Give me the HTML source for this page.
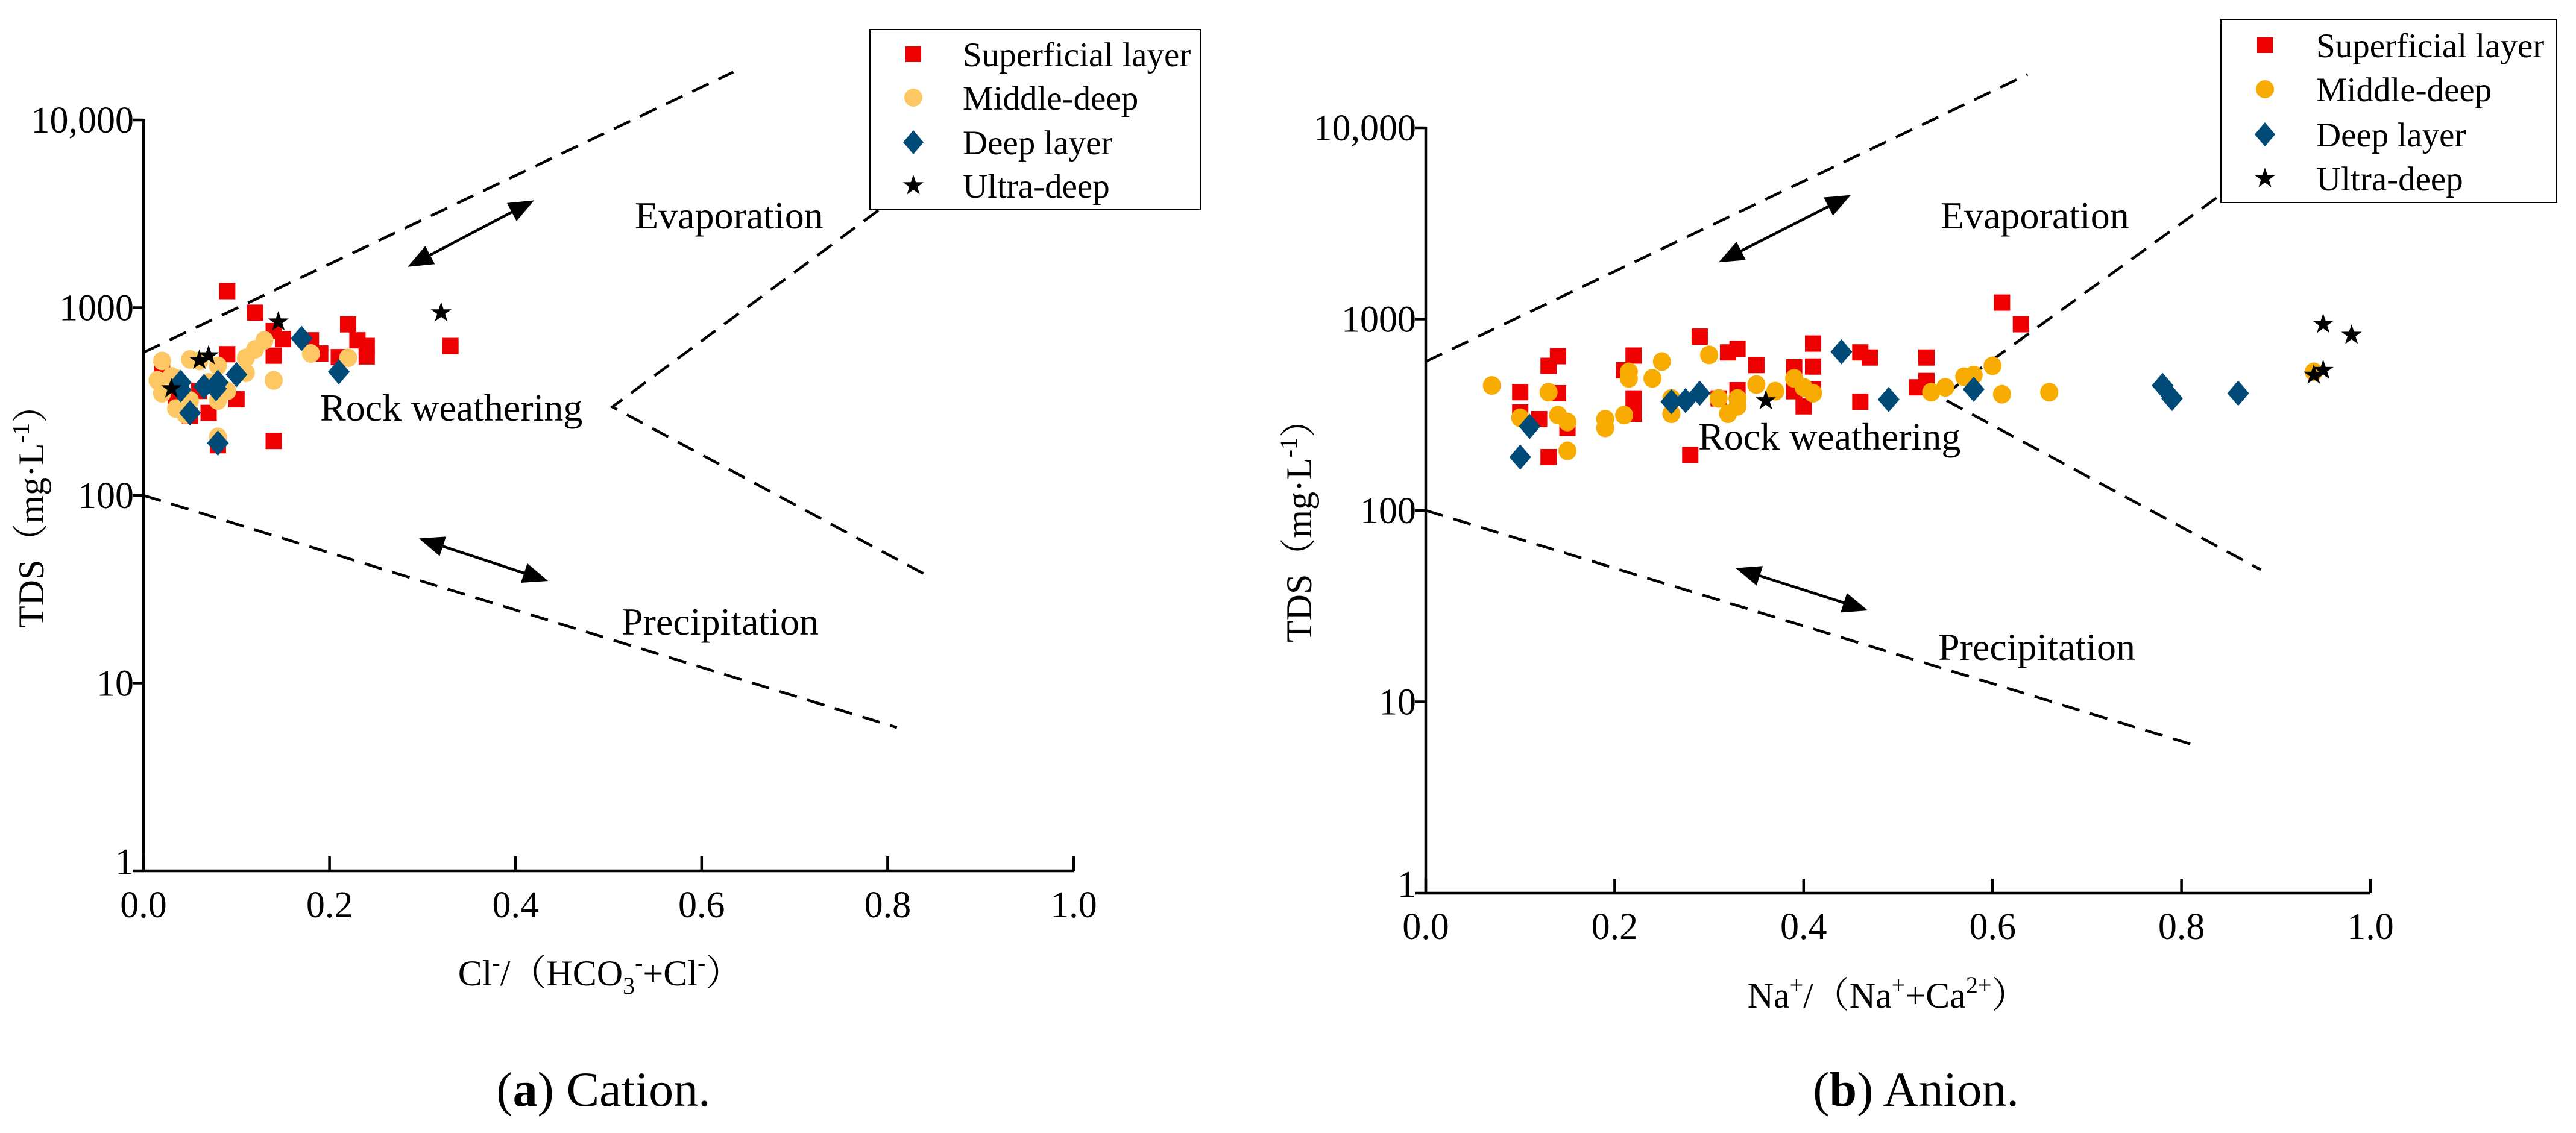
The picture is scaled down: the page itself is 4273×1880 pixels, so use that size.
<!DOCTYPE html>
<html><head><meta charset="utf-8">
<style>
html,body{margin:0;padding:0;background:#fff;}
svg{display:block;font-family:"Liberation Serif","Times New Roman","DejaVu Serif","Noto Serif CJK SC",serif;}
svg text, svg tspan{font-family:"Liberation Serif","Times New Roman","DejaVu Serif","Noto Serif CJK SC",serif;fill:#000;}
</style></head>
<body>
<svg id="fig" width="4273" height="1880" viewBox="0 0 4273 1880" xmlns="http://www.w3.org/2000/svg" font-family="Liberation Serif, Times New Roman, DejaVu Serif, Noto Serif CJK SC, serif">
<g id="pa"></g>
<g id="pb"></g>
</svg>
<script>
// ---- Panel (a) data ----
const xTicks = [0, 0.2, 0.4, 0.6, 0.8, 1.0];
const xTickLabels = ["0.0","0.2","0.4","0.6","0.8","1.0"];
const yTicks = [1, 10, 100, 1000, 10000];
const yTickLabels = ["1","10","100","1000","10,000"];
const seriesNames = ["Superficial layer","Middle-deep","Deep layer","Ultra-deep"];

const aSupX = [0.09,0.12,0.14,0.15,0.14,0.09,0.18,0.19,0.21,0.22,0.23,0.24,0.24,0.33,0.10,0.07,0.14,0.08,0.02,0.035,0.05,0.06];
const aSupY = [1225,940,750,680,555,565,670,570,545,815,670,625,550,625,325,275,195,185,460,320,265,360];
const aMidX = [0.02,0.03,0.02,0.035,0.045,0.05,0.06,0.05,0.08,0.09,0.08,0.11,0.11,0.12,0.13,0.14,0.18,0.22,0.08,0.035,0.07,0.015];
const aMidY = [520,430,350,290,270,320,520,530,490,360,320,540,450,600,670,410,570,540,205,420,400,410];
const aDeepX = [0.04,0.04,0.065,0.08,0.10,0.05,0.08,0.17,0.21,0.078];
const aDeepY = [400,365,380,400,440,275,190,685,455,370];
const aUltraX = [0.03,0.06,0.07,0.145,0.32];
const aUltraY = [370,525,555,840,940];

// ---- Panel (b) data ----
const bSupX = [0.10,0.10,0.12,0.13,0.14,0.14,0.15,0.13,0.21,0.22,0.22,0.22,0.29,0.32,0.33,0.33,0.31,0.28,0.35,0.39,0.39,0.41,0.41,0.41,0.40,0.46,0.47,0.46,0.53,0.53,0.52,0.61,0.63];
const bSupY = [415,325,300,570,640,410,270,190,540,645,385,320,810,670,700,425,385,195,575,560,420,745,565,430,350,670,630,370,630,475,440,1220,940];
const bMidX = [0.07,0.10,0.13,0.14,0.15,0.15,0.19,0.19,0.21,0.215,0.215,0.24,0.25,0.26,0.26,0.30,0.31,0.32,0.33,0.33,0.35,0.37,0.39,0.40,0.41,0.535,0.55,0.57,0.58,0.60,0.61,0.66,0.94];
const bMidY = [450,305,415,315,290,205,300,270,315,530,490,490,600,385,320,650,385,320,350,385,455,420,490,440,410,415,440,500,510,570,405,415,530];
const bDeepX = [0.10,0.11,0.26,0.275,0.29,0.44,0.49,0.58,0.78,0.79,0.86];
const bDeepY = [190,275,370,375,410,675,380,430,450,385,410];
const bUltraX = [0.36,0.95,0.98,0.94,0.95];
const bUltraY = [375,940,825,510,540];

const NS = "http://www.w3.org/2000/svg";
const FONT = "Liberation Serif, Times New Roman, DejaVu Serif, Noto Serif CJK SC, serif";
function mk(parent, tag, attrs, txt){
  const e = document.createElementNS(NS, tag);
  for (const k in attrs) e.setAttribute(k, attrs[k]);
  if (tag === "text") e.setAttribute("font-family", FONT);
  if (txt !== undefined) e.textContent = txt;
  parent.appendChild(e);
  return e;
}

function drawPanel(g, cfg){
  const sx = v => cfg.x0 + (cfg.x1 - cfg.x0) * v;
  const sy = v => cfg.y1 - (cfg.y1 - cfg.y10k) / 4 * Math.log10(v);
  const P = (x, y) => sx(x).toFixed(1) + "," + sy(y).toFixed(1);

  const dl = mk(g, "g", {stroke:"#000","stroke-width":4.5,"stroke-dasharray":"30,18",fill:"none"});
  
  
  mk(dl, "polyline", {points: P(cfg.up[0],cfg.up[1]) + " " + P(cfg.up[2],cfg.up[3])});
  mk(dl, "polyline", {points: P(cfg.br[2],cfg.br[3]) + " " + P(cfg.br[0],cfg.br[1]) + " " + P(cfg.br[4],cfg.br[5])});
  mk(dl, "polyline", {points: P(cfg.lo[0],cfg.lo[1]) + " " + P(cfg.lo[2],cfg.lo[3])});

  function arrow(a, name){
    const ag = mk(g, "g", {});
    
    
    const x1 = sx(a[0]), y1 = sy(a[1]), x2 = sx(a[2]), y2 = sy(a[3]);
    const ang = Math.atan2(y2 - y1, x2 - x1), L = 42, W = 17;
    const ux = Math.cos(ang), uy = Math.sin(ang);
    mk(ag, "line", {x1: x1 + ux*L*0.8, y1: y1 + uy*L*0.8, x2: x2 - ux*L*0.8, y2: y2 - uy*L*0.8, stroke:"#000","stroke-width":4.5});
    const head = (px, py, dx, dy) => {
      const bx = px - dx*L, by = py - dy*L;
      return px+","+py+" "+(bx - dy*W)+","+(by + dx*W)+" "+(bx + dy*W)+","+(by - dx*W);
    };
    mk(ag, "polygon", {points: head(x2, y2, ux, uy), fill:"#000"});
    mk(ag, "polygon", {points: head(x1, y1, -ux, -uy), fill:"#000"});
  }
  arrow(cfg.arEvap, "evaporation-arrow");
  arrow(cfg.arPrec, "precipitation-arrow");

  const t1 = mk(g, "text", {x: cfg.tEvap[0], y: cfg.tEvap[1], "font-size": 64}, "Evaporation");
  
  
  const t2 = mk(g, "text", {x: cfg.tRock[0], y: cfg.tRock[1], "font-size": 64}, "Rock weathering");
  
  
  const t3 = mk(g, "text", {x: cfg.tPrec[0], y: cfg.tPrec[1], "font-size": 64}, "Precipitation");
  
  

  const series = [
    {xs: cfg.sup[0], ys: cfg.sup[1], kind: "sq", color: "#ee0000", name: "superficial-point"},
    {xs: cfg.mid[0], ys: cfg.mid[1], kind: "ci", color: cfg.midColor, name: "middle-deep-point"},
    {xs: cfg.deep[0], ys: cfg.deep[1], kind: "di", color: "#004a77", name: "deep-point"},
    {xs: cfg.ultra[0], ys: cfg.ultra[1], kind: "st", color: "#000", name: "ultra-deep-point"}
  ];
  function marker(parent, kind, color, cx, cy){
    if (kind === "sq") return mk(parent, "rect", {x: cx-13.5, y: cy-13.5, width: 27, height: 27, fill: color});
    if (kind === "ci") return mk(parent, "ellipse", {cx: cx, cy: cy, rx: 15, ry: 15.5, fill: color});
    if (kind === "di") return mk(parent, "polygon", {points: cx+","+(cy-21)+" "+(cx+18)+","+cy+" "+cx+","+(cy+21)+" "+(cx-18)+","+cy, fill: color});
    const pts = [];
    for (let i = 0; i < 10; i++){
      const r = i % 2 ? 7 : 18, a = -Math.PI/2 + i*Math.PI/5;
      pts.push((cx + r*Math.cos(a)).toFixed(1) + "," + (cy + r*Math.sin(a)).toFixed(1));
    }
    return mk(parent, "polygon", {points: pts.join(" "), fill: color});
  }
  series.forEach(s => {
    const sg = mk(g, "g", {});
    
    
    s.xs.forEach((xv, i) => {
      const m = marker(sg, s.kind, s.color, sx(xv), sy(s.ys[i]));
      
      
    });
  });

  const ax = mk(g, "g", {stroke:"#000","stroke-width":4.5,fill:"none"});
  
  
  mk(ax, "polyline", {points: cfg.x0+","+(cfg.y10k-2)+" "+cfg.x0+","+cfg.y1+" "+cfg.x1+","+cfg.y1});
  xTicks.forEach((v, i) => {
    mk(ax, "line", {x1: sx(v), y1: cfg.y1, x2: sx(v), y2: cfg.y1 - 24});
    const tl = mk(g, "text", {x: sx(v), y: cfg.xLabBase, "font-size": 62, "text-anchor": "middle"}, xTickLabels[i]);
    
    
  });
  yTicks.forEach((v, i) => {
    mk(ax, "line", {x1: cfg.x0, y1: sy(v), x2: cfg.x0 - 18, y2: sy(v)});
    const tl = mk(g, "text", {x: cfg.x0 - 16, y: sy(v) + (v === 1 ? 6 : 21), "font-size": 62, "text-anchor": "end"}, yTickLabels[i]);
    
    
  });

  const yt = mk(g, "text", {transform: "translate(" + cfg.yTitle[0] + "," + cfg.yTitle[1] + ") rotate(-90)", "font-size": 60, "text-anchor": "middle"});
  
  
  mk(yt, "tspan", {}, "TDS（mg·L");
  mk(yt, "tspan", {"font-size": 40, dy: -24}, "-1");
  mk(yt, "tspan", {dy: 24}, "）");

  const xt = mk(g, "text", {x: cfg.xTitle[0], y: cfg.xTitle[1], "font-size": 60, "text-anchor": "middle"});
  
  
  cfg.xTitleParts.forEach(p => {
    const a = {};
    if (p[1] === "sup") { a["font-size"] = 40; a.dy = -24; }
    if (p[1] === "sub") { a["font-size"] = 40; a.dy = 14; }
    if (p[1] === "back") { a.dy = 24; }
    if (p[1] === "supsub") { a["font-size"] = 40; a.dy = -38; }
    mk(xt, "tspan", a, p[0]);
  });

  const cap = mk(g, "text", {x: cfg.cap[0], y: cfg.cap[1], "font-size": 82, "text-anchor": "middle"});
  
  
  mk(cap, "tspan", {}, "(");
  mk(cap, "tspan", {"font-weight": "bold"}, cfg.capLetter);
  mk(cap, "tspan", {}, ") " + cfg.capText);

  const lg = mk(g, "g", {});
  
  
  const L = cfg.leg;
  mk(lg, "rect", {x: L.x, y: L.y, width: L.w, height: L.h, fill: "#fff", stroke: "#000", "stroke-width": 2});
  series.forEach((s, i) => {
    const eg = mk(lg, "g", {});
    
    
    const cy = L.rows[i];
    if (s.kind === "sq") mk(eg, "rect", {x: L.mx-13, y: cy-13, width: 26, height: 26, fill: s.color});
    else if (s.kind === "ci") mk(eg, "ellipse", {cx: L.mx, cy: cy, rx: 15, ry: 15, fill: s.color});
    else if (s.kind === "di") mk(eg, "polygon", {points: L.mx+","+(cy-20)+" "+(L.mx+17)+","+cy+" "+L.mx+","+(cy+20)+" "+(L.mx-17)+","+cy, fill: s.color});
    else marker(eg, "st", s.color, L.mx, cy);
    mk(eg, "text", {x: L.tx, y: cy + 20, "font-size": 57}, seriesNames[i]);
  });
}

drawPanel(document.getElementById("pa"), {
  x0: 238, x1: 1781, y10k: 199, y1: 1445,
  sup: [aSupX, aSupY], mid: [aMidX, aMidY], deep: [aDeepX, aDeepY], ultra: [aUltraX, aUltraY],
  midColor: "#fdc864",
  up: [0, 577, 0.634, 18000], br: [0.504, 296, 0.79, 3300, 0.84, 38], lo: [0, 100, 0.81, 5.8],
  arEvap: [0.284, 1650, 0.42, 3730], arPrec: [0.296, 59, 0.435, 35],
  tEvap: [1053, 379], tRock: [531, 698], tPrec: [1031, 1053],
  xLabBase: 1522, yTitle: [72, 842], xTitle: [995, 1635],
  xTitleParts: [["Cl"],["-","sup"],["/（HCO","back"],["3","sub"],["-","supsub"],["+Cl","back"],["-","sup"],["）","back"]],
  cap: [1001, 1835], capLetter: "a", capText: "Cation.",
  leg: {x: 1443, y: 49, w: 548, h: 299, mx: 1515, tx: 1597, rows: [90, 162, 236, 308]}
});

drawPanel(document.getElementById("pb"), {
  x0: 2365, x1: 3932, y10k: 212, y1: 1482,
  sup: [bSupX, bSupY], mid: [bMidX, bMidY], deep: [bDeepX, bDeepY], ultra: [bUltraX, bUltraY],
  midColor: "#f8ab00",
  up: [0, 600, 0.637, 19000], br: [0.545, 390, 0.837, 4300, 0.884, 49], lo: [0, 100, 0.81, 6],
  arEvap: [0.31, 1980, 0.45, 4450], arPrec: [0.328, 50, 0.468, 30],
  tEvap: [3219, 379], tRock: [2817, 746], tPrec: [3215, 1095],
  xLabBase: 1558, yTitle: [2175, 866], xTitle: [3131, 1672],
  xTitleParts: [["Na"],["+","sup"],["/（Na","back"],["+","sup"],["+Ca","back"],["2+","sup"],["）","back"]],
  cap: [3178, 1835], capLetter: "b", capText: "Anion.",
  leg: {x: 3684, y: 32, w: 557, h: 304, mx: 3757, tx: 3842, rows: [75, 148, 223, 296]}
});
</script>
</body></html>
